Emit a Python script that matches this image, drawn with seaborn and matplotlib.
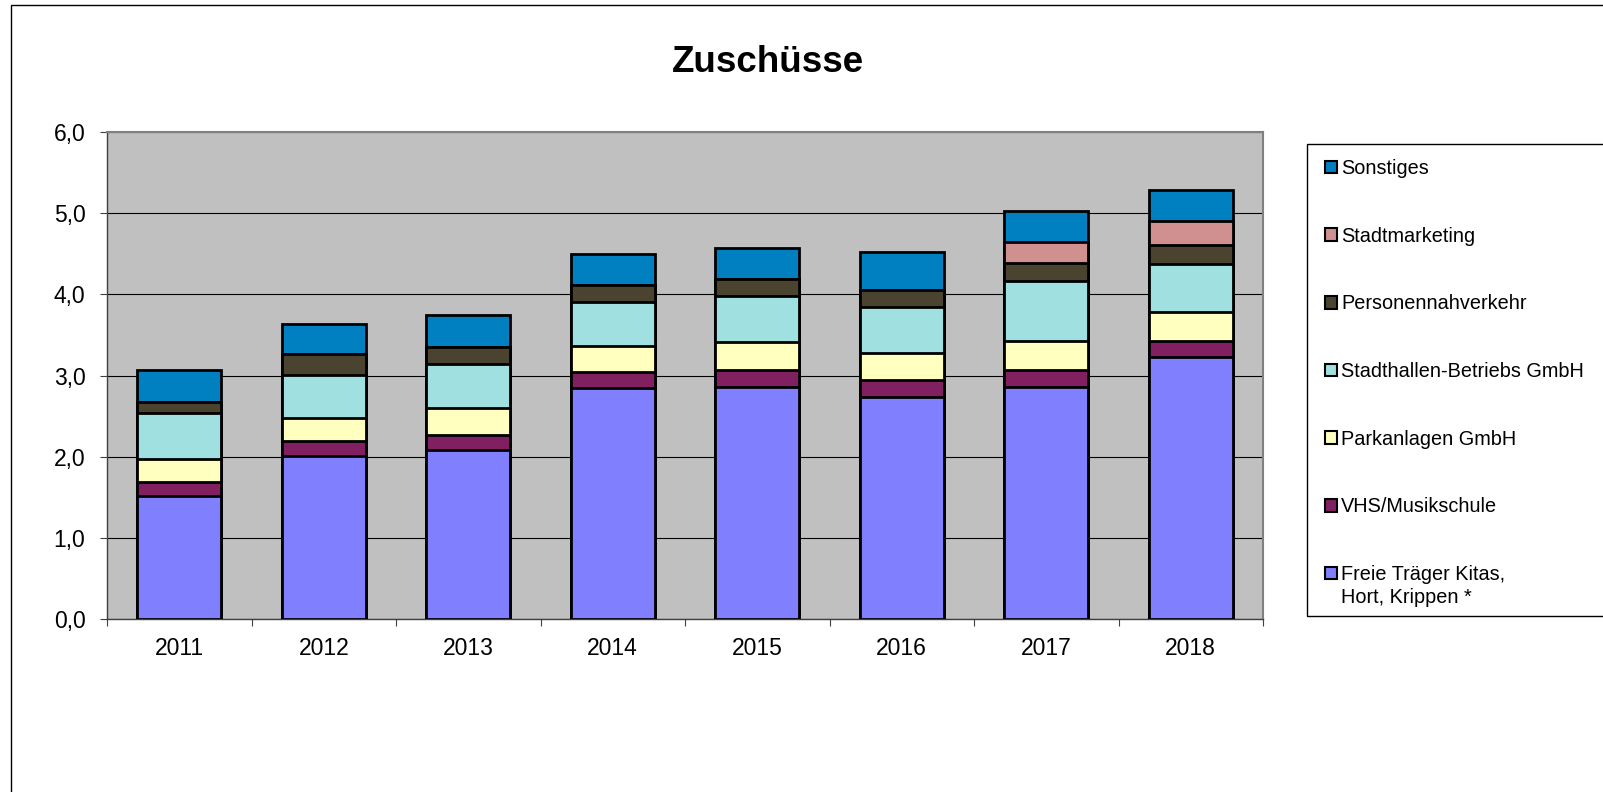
import matplotlib
matplotlib.use("Agg")
import matplotlib.pyplot as plt
import seaborn as sns
import numpy as np
import pandas as pd
from matplotlib.patches import Rectangle, Patch
from matplotlib.ticker import FuncFormatter, FixedLocator

years = ["2011", "2012", "2013", "2014", "2015", "2016", "2017", "2018"]
freie = [1.52, 2.01, 2.08, 2.85, 2.86, 2.74, 2.86, 3.23]
vhs = [0.17, 0.18, 0.19, 0.19, 0.21, 0.21, 0.21, 0.19]
park = [0.28, 0.29, 0.33, 0.32, 0.34, 0.33, 0.35, 0.36]
stadthallen = [0.57, 0.53, 0.54, 0.55, 0.57, 0.57, 0.75, 0.59]
personen = [0.13, 0.25, 0.21, 0.20, 0.21, 0.20, 0.22, 0.24]
stadtmarketing = [0.0, 0.0, 0.0, 0.0, 0.0, 0.0, 0.25, 0.29]
sonstiges = [0.40, 0.37, 0.39, 0.39, 0.38, 0.47, 0.39, 0.39]

series_names = ["Freie Träger Kitas,", "VHS/Musikschule", "Parkanlagen GmbH",
                "Stadthallen-Betriebs GmbH", "Personennahverkehr", "Stadtmarketing", "Sonstiges"]
freie_second_line = "Hort, Krippen *"
series_values = [freie, vhs, park, stadthallen, personen, stadtmarketing, sonstiges]
series_colors = ["#8080FF", "#802060", "#FFFFC0", "#A0E0E0", "#4A4330", "#D09090", "#0080C0"]

sns.set_theme(style="white")
plt.rcParams["font.family"] = ["Liberation Sans", "DejaVu Sans"]
plt.rcParams["text.color"] = "black"

W, H = 1603, 792
fig = plt.figure(figsize=(W / 100, H / 100), dpi=100)
ax = fig.add_axes([107 / W, 1 - 619 / H, (1263 - 107) / W, (619 - 132) / H])
ax.set_facecolor("#C0C0C0")

cum = np.cumsum(np.array(series_values), axis=0)
df = pd.DataFrame({"year": years})
# draw from the tallest cumulative down so lower segments overlay
for i in range(len(series_names) - 1, -1, -1):
    df["val"] = cum[i]
    sns.barplot(data=df, x="year", y="val", color=series_colors[i], saturation=1,
                width=0.58, edgecolor="black", linewidth=2.0, ax=ax, zorder=3)

ax.set_xlim(-0.5, len(years) - 0.5)
ax.set_ylim(0, 6)
ax.set_yticks(np.arange(0, 7, 1))
ax.yaxis.set_major_formatter(FuncFormatter(lambda v, p: f"{v:.1f}".replace(".", ",")))
ax.grid(axis="y", color="black", linewidth=0.8)
ax.grid(axis="x", visible=False)
ax.set_axisbelow(True)
ax.set_xlabel("")
ax.set_ylabel("")

ax.tick_params(axis="y", which="major", direction="out", length=5, width=0.8, color="#404040",
               labelsize=16.5, pad=10.5, left=True, labelcolor="black")
ax.tick_params(axis="x", which="major", length=0, labelsize=16.5, pad=13, labelcolor="black")
ax.xaxis.set_minor_locator(FixedLocator(np.arange(-0.5, len(years), 1)))
ax.tick_params(axis="x", which="minor", direction="out", length=5, width=0.8, color="#404040", bottom=True)

for s in ["left", "bottom"]:
    ax.spines[s].set_color("#404040")
    ax.spines[s].set_linewidth(1.0)
for s in ["top", "right"]:
    ax.spines[s].set_color("#808080")
    ax.spines[s].set_linewidth(1.5)

fig.suptitle("Zuschüsse", x=768 / W, y=1 - 63 / H, va="center", fontsize=26.5,
             fontweight="bold", color="black")

# outer frame (cut off at right and bottom)
fig.add_artist(Rectangle((11 / W, -0.1), 1.2, 1 - 5 / H + 0.1, transform=fig.transFigure,
                         fill=False, edgecolor="black", linewidth=1.0))
# legend frame
fig.add_artist(Rectangle((1307 / W, 1 - 616 / H), 1.0, (616 - 144) / H, transform=fig.transFigure,
                         fill=False, edgecolor="black", linewidth=1.0))

handles = [Patch(facecolor=c, edgecolor="black", linewidth=1.5) for c in series_colors][::-1]
labels = series_names[::-1]
leg = fig.legend(handles, labels, loc="upper left", bbox_to_anchor=(1325 / W, 1 - 159 / H),
                 frameon=False, fontsize=14.3, handlelength=0.6, handleheight=0.62,
                 handletextpad=0.2, labelspacing=2.45, borderpad=0, borderaxespad=0)

fig.canvas.draw()
last = leg.get_texts()[-1]
bb = last.get_window_extent(fig.canvas.get_renderer())
fig.text(bb.x0 / W, (bb.y0 - 23.5) / H, freie_second_line, fontsize=14.3, color="black",
         ha="left", va="bottom")

fig.savefig("out.png", dpi=100)
